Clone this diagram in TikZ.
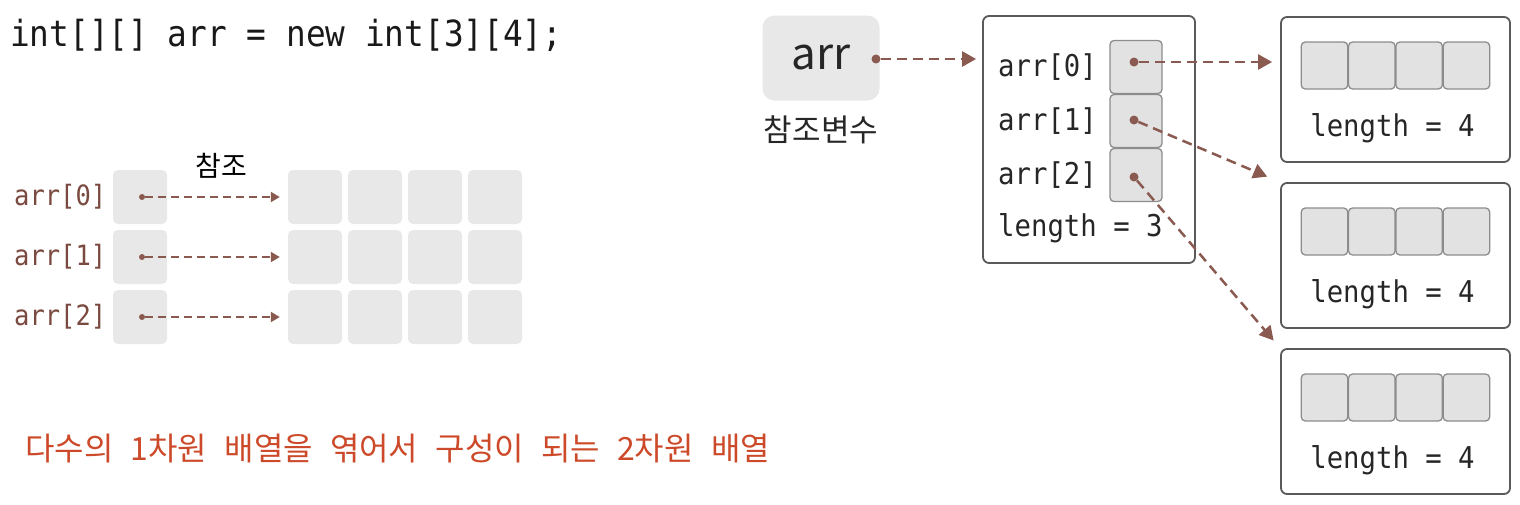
\documentclass[tikz,border=0pt]{standalone}
\usepackage{fontspec}
\setmainfont{Noto Sans CJK KR}
\setmonofont[FakeStretch=0.91]{DejaVu Sans Mono}
\newfontfamily\notefont[WordSpace=2.4]{Noto Sans CJK KR}
\usetikzlibrary{arrows.meta,positioning}
\definecolor{arrowbrown}{HTML}{8A5A50}
\definecolor{labelbrown}{HTML}{7A4A40}
\definecolor{softgray}{HTML}{E8E8E8}
\definecolor{slotgray}{HTML}{E2E2E2}
\definecolor{slotedge}{HTML}{8C8C8C}
\definecolor{frameedge}{HTML}{5A5A5A}
\definecolor{notered}{HTML}{CC4A2A}
\tikzset{
  codetext/.style={font=\ttfamily\fontsize{36}{40}\selectfont,text=black!90,inner sep=0pt},
  idxlabel/.style={font=\ttfamily\fontsize{28}{32}\selectfont,text=labelbrown,anchor=west,inner sep=0pt},
  boxlabel/.style={font=\ttfamily\fontsize{30}{34}\selectfont,text=black!85,inner sep=0pt},
  softcell/.style={fill=softgray,rounded corners=5pt,minimum width=54pt,minimum height=54pt,inner sep=0pt},
  slotcell/.style={draw=slotedge,line width=1.3pt,fill=slotgray,rounded corners=4pt,inner sep=0pt},
  heapbox/.style={draw=frameedge,line width=1.8pt,rounded corners=6pt,inner sep=0pt},
  refdot/.style={circle,fill=arrowbrown,inner sep=0pt,minimum size=#1},
  refdot/.default=6pt,
  refarrow/.style={arrowbrown,line width=2pt,dash pattern=on 8pt off 5pt,-{Triangle[length=9pt,width=10pt]}},
  heaparrow/.style={arrowbrown,line width=2.5pt,dash pattern=on 10pt off 6pt,-{Triangle[length=14pt,width=15pt]}}
}

\begin{document}
\begin{tikzpicture}[x=1pt,y=-1pt]
  \useasboundingbox (0,0) rectangle (1520,504);

  % declaration
  \node[codetext,anchor=base west] (decl) at (10,46) {int[][] arr = new int[3][4];};

  % left: rows of references into a grid
  \foreach \r/\y in {0/197,1/257,2/317} {
    \node[idxlabel] (lab\r) at (14,\y) {arr[\r]};
    \node[softcell] (ref\r) at (140,\y) {};
    \node[refdot=6pt] (rdot\r) at (142,\y) {};
    \foreach \c in {0,...,3}
      \node[softcell] (g\r\c) at ({315+60*\c},\y) {};
    \draw[refarrow,shorten >=8pt] (rdot\r) -- (g\r0.west);
  }
  \node[font=\fontsize{28}{32}\selectfont] (refword) at (221,166) {참조};

  % right: reference variable
  \node[softcell,minimum width=117pt,minimum height=85pt,rounded corners=12pt,
        font=\fontsize{44}{48}\selectfont,text=black!85] (arr) at (821,58) {arr};
  \node[below=12pt of arr,font=\fontsize{31}{34}\selectfont,text=black!85] (refvar) {참조변수};
  \node[refdot=9pt] (adot) at (876,59) {};

  % array of references
  \node[heapbox,minimum width=212pt,minimum height=247pt] (outer) at (1089,139.5) {};
  \draw[heaparrow,shorten >=6pt] (adot) -- (adot -| outer.west);
  \foreach \r/\y/\d in {0/67/62,1/121/120,2/175/177} {
    \node[boxlabel,anchor=west] (olab\r) at (998,\y) {arr[\r]};
    \node[slotcell,minimum width=52pt,minimum height=53pt] (slot\r) at (1136,\y) {};
    \node[refdot=9pt] (sdot\r) at (1134,\d) {};
  }
  \node[boxlabel,anchor=base west] (olen) at (998,236) {length = 3};

  % the three int[4] arrays
  \foreach \k/\t in {1/17,2/183,3/349} {
    \node[heapbox,minimum width=229pt,minimum height=145pt] (row\k) at (1395.5,\t+72.5) {};
    \foreach \c in {0,...,3}
      \node[slotcell,minimum width=46.5pt,minimum height=47pt] (cell\k\c) at ({1324.5+47.3*\c},\t+48.5) {};
    \node[boxlabel,anchor=base] (len\k) at (1392.5,\t+119) {length = 4};
  }
  \draw[heaparrow,shorten >=8pt] (sdot0) -- (sdot0 -| row1.west);
  \draw[heaparrow,shorten >=14pt] (sdot1) -- (row2.north west);
  \draw[heaparrow,shorten >=10pt] (sdot2) -- (row3.north west);

  % caption
  \node[font=\notefont\fontsize{32}{36}\selectfont,text=notered,anchor=west,inner sep=0pt] (note) at (25,449)
    {다수의 1차원 배열을 엮어서 구성이 되는 2차원 배열};
\end{tikzpicture}
\end{document}
